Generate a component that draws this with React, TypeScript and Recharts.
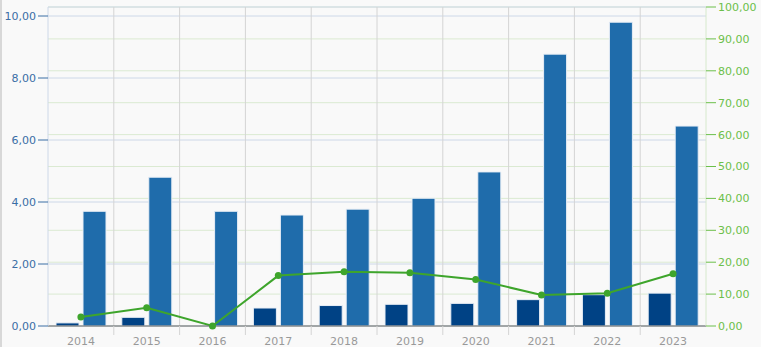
import { ComposedChart, Bar, Line, XAxis, YAxis, CartesianGrid } from "recharts";

const years = ["2014", "2015", "2016", "2017", "2018", "2019", "2020", "2021", "2022", "2023"];
const smallBar = [0.1, 0.28, 0, 0.58, 0.66, 0.7, 0.73, 0.85, 1.01, 1.06];
const bigBar = [3.7, 4.8, 3.7, 3.58, 3.77, 4.12, 4.97, 8.77, 9.8, 6.45];
const lineValues = [2.8, 5.7, 0, 15.8, 17.0, 16.7, 14.6, 9.7, 10.3, 16.4];
const leftTicks = [0, 2, 4, 6, 8, 10];
const rightTicks = [0, 10, 20, 30, 40, 50, 60, 70, 80, 90, 100];

const data = years.map((year, i) => ({
  year,
  small: smallBar[i],
  big: bigBar[i],
  line: lineValues[i],
}));

const W = 761;
const H = 347;
const LEFT = 48;
const RIGHT_W = 55;
const TOP = 7;
const XH = 21;
const axisY = H - XH;
const plotW = W - LEFT - RIGHT_W;
const step = plotW / years.length;

const fmt = (v: number) => v.toFixed(2).replace(".", ",");
const font = "DejaVu Sans, sans-serif";

const XTick = (props: any) => {
  const { x, payload } = props;
  const bx = x - step / 2;
  return (
    <g>
      {bx > LEFT + 1 && <line x1={bx} y1={axisY} x2={bx} y2={axisY + 9} stroke="#d4d4d4" />}
      <text x={x} y={axisY + 19} textAnchor="middle" fill="#999" fontSize={11} fontFamily={font}>
        {payload.value}
      </text>
    </g>
  );
};

const App = () => {
  return (
    <div style={{ position: "absolute", left: 0, top: 0, width: W, height: H, background: "#f9f9f9" }}>
      <div style={{ position: "absolute", left: 0, top: 0, width: 2, height: H, background: "#d8d8d8" }} />
      <ComposedChart width={W} height={H} data={data} margin={{ top: TOP, right: 0, bottom: 0, left: 0 }} barGap={4} barCategoryGap={8}>
        <CartesianGrid yAxisId="right" stroke="#dbead2" vertical={false} />
        <CartesianGrid yAxisId="left" stroke="#cdd8e8" vertical={false} />
        <CartesianGrid
          yAxisId="left"
          stroke="#d4d4d4"
          horizontal={false}
          verticalCoordinatesGenerator={({ offset }: any) =>
            years.slice(1).map((_, i) => offset.left + ((i + 1) * offset.width) / years.length)
          }
        />
        <XAxis
          dataKey="year"
          height={XH}
          axisLine={{ stroke: "#666" }}
          tickLine={false}
          tick={<XTick />}
          interval={0}
        />
        <YAxis
          yAxisId="left"
          width={LEFT}
          domain={[0, (H - XH - TOP) / 31]}
          ticks={leftTicks}
          tickFormatter={fmt}
          axisLine={{ stroke: "#cdd8e8" }}
          tickLine={{ stroke: "#3a6ea5" }}
          tickSize={10}
          tick={{ fill: "#3a6ea5", fontSize: 11, fontFamily: font }}
          allowDataOverflow
        />
        <YAxis
          yAxisId="right"
          orientation="right"
          width={RIGHT_W}
          domain={[0, 100]}
          ticks={rightTicks}
          tickFormatter={fmt}
          axisLine={{ stroke: "#d6e9cc" }}
          tickLine={{ stroke: "#6cbf4a" }}
          tickSize={10}
          tick={{ fill: "#6cbf4a", fontSize: 11, fontFamily: font }}
        />
        <Bar yAxisId="left" dataKey="small" fill="#004285" stroke="#e8eef6" strokeWidth={1} isAnimationActive={false} />
        <Bar yAxisId="left" dataKey="big" fill="#1f6cab" stroke="#e8eef6" strokeWidth={1} isAnimationActive={false} />
        <Line
          yAxisId="right"
          dataKey="line"
          stroke="#3ea52c"
          strokeWidth={2}
          dot={{ r: 3.5, fill: "#3ea52c", stroke: "#3ea52c", strokeWidth: 0 }}
          isAnimationActive={false}
        />
      </ComposedChart>
    </div>
  );
};

export default App;
